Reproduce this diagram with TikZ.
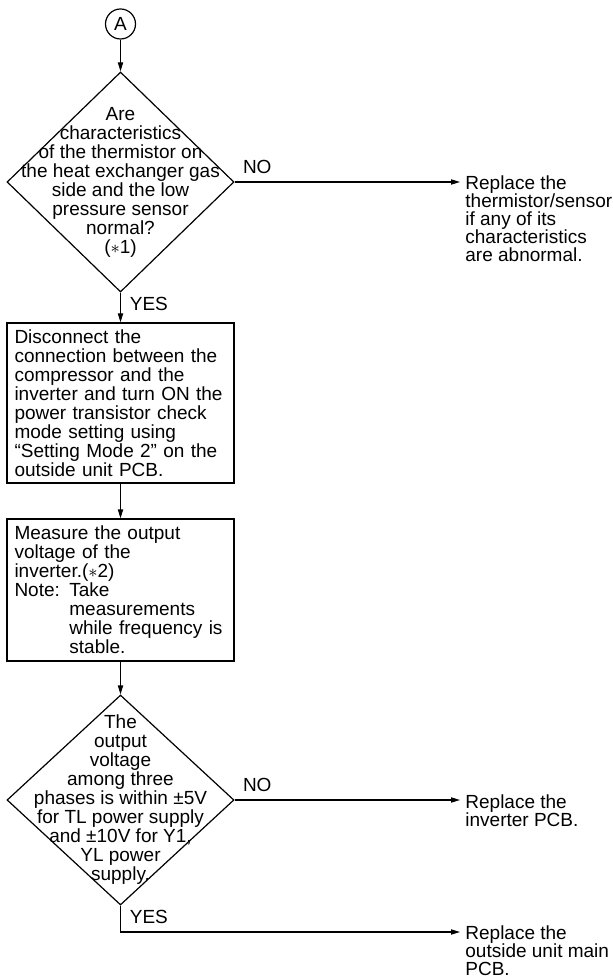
\documentclass[tikz,border=0pt]{standalone}
\usepackage{fontspec}
\setmainfont{Liberation Sans}
\usepackage{tikz}
\usetikzlibrary{shapes.geometric,arrows.meta,positioning,calc}

\begin{document}
\begin{tikzpicture}[
  x=0.5pt, y=-0.5pt,
  txt/.style={font=\fontsize{9.5}{9.5}\selectfont},
  decision/.style={
    diamond, draw, line width=0.6pt,
    minimum width=113.5pt, inner sep=0
  },
  stepbox/.style={
    rectangle, draw, line width=0.6pt, txt,
    text width=106pt, align=left,
    inner xsep=3.75pt, inner ysep=0pt
  },
  dtext/.style={txt, align=center, inner sep=0},
  result/.style={
    font=\fontsize{9.5}{9.1}\selectfont, align=left,
    anchor=north west, inner xsep=2.5pt, inner ysep=0pt
  },
  lbl/.style={txt, inner sep=0},
  arr/.style={-{Triangle[length=4.5pt,width=2.6pt]}, line width=0.6pt},
]
\useasboundingbox (0,0) rectangle (613,977);
% Connector
\node[circle, draw, line width=0.6pt, minimum size=15pt, inner sep=0, txt] (A) at (120.5,24) {A};
% First check
\node[decision, minimum height=110pt] (d1) at (120.5,182) {};
\node[dtext] (q1) at (d1) {Are\\characteristics\\of the thermistor on\\the heat exchanger gas\\side and the low\\pressure sensor\\normal?\\($\ast$1)};
% Steps
\node[stepbox, minimum height=80pt] (s1) at (120.5,403) {Disconnect the\\connection between the\\compressor and the\\inverter and turn ON the\\power transistor check\\mode setting using\\“Setting Mode 2” on the\\outside unit PCB.};
\node[stepbox, minimum height=71pt] (s2) at (120.5,590) {Measure the output\\voltage of the\\inverter.($\ast$2)\\Note: Take\\\phantom{Note: }measurements\\\phantom{Note: }while frequency is\\\phantom{Note: }stable.};
% Second check
\node[decision, minimum height=105pt] (d2) at (120.5,800) {};
\node[dtext] (q2) at (d2) {The\\output\\voltage\\among three\\phases is within ±5V\\for TL power supply\\and ±10V for Y1,\\YL power\\supply.};
% Results
\node[result] (r1) at (460,175) {Replace the\\thermistor/sensor\\if any of its\\characteristics\\are abnormal.};
\node[result] (r2) at (460,794) {Replace the\\inverter PCB.};
\coordinate (c3) at (460,932);
\node[result] (r3) at (460,925) {Replace the\\outside unit main\\PCB.};
% Arrows
\draw[arr] (A) -- (d1.north);
\draw[arr] (d1.south) -- (s1.north);
\draw[arr] (s1) -- (s2);
\draw[arr] (s2) -- (d2.north);
\draw[arr] (d1.east) -- (d1.east -| r1.west);
\draw[arr] (d2.east) -- (d2.east -| r2.west);
\draw[arr] (d2.south) |- (c3);
% Labels
\node[lbl, anchor=south west] at ([xshift=4pt,yshift=4.2pt]d1.east) {NO};
\node[lbl, anchor=north west] at ([xshift=4.5pt,yshift=-2pt]d1.south) {YES};
\node[lbl, anchor=south west] at ([xshift=4pt,yshift=4.2pt]d2.east) {NO};
\node[lbl, anchor=north west] at ([xshift=4.5pt,yshift=-2pt]d2.south) {YES};
\end{tikzpicture}
\end{document}
